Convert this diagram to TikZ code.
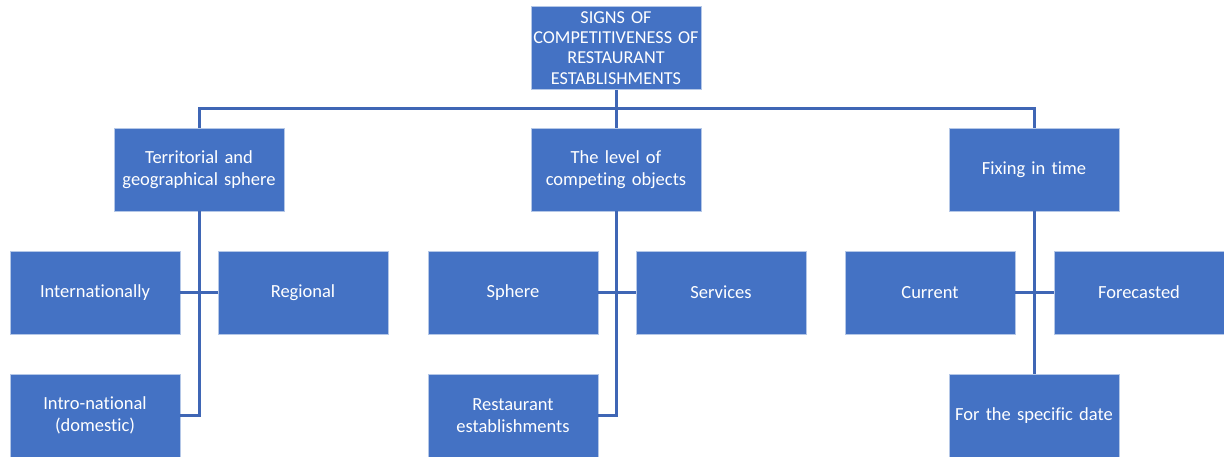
\documentclass[tikz,border=0pt]{standalone}
\usepackage{fontspec}
\setmainfont{Carlito}[Ligatures=NoCommon]
\definecolor{boxblue}{HTML}{4472C4}
\definecolor{lineblue}{HTML}{3F66B5}
\begin{document}
\begin{tikzpicture}[
        x = 1pt, y = -1pt, % pixel units, y downwards
        line width = 3pt, % line style
        draw = lineblue
      ]

      \tikzstyle{sign}=[rectangle,fill=boxblue,draw=white!60!boxblue,line width=0.6pt,
        minimum width=170pt,minimum height=83pt,text width=166pt,align=center,
        text=white,font=\fontsize{18.5}{21.5}\selectfont,inner sep=0pt]

      \useasboundingbox (0,0) rectangle (1224,456);

      \node[sign,text width=170pt,font=\fontsize{18.2}{20.3}\selectfont] (top) at (616,48)
        {SIGNS OF\\COMPETITIVENESS OF\\RESTAURANT\\ESTABLISHMENTS};
      \node[sign] (terr) at (199,169.5) {Territorial and\\geographical sphere};
      \node[sign] (lvl) at (616,169.5) {The level of\\competing objects};
      \node[sign] (fix) at (1034,169.5) {Fixing in time};

      \node[sign] (intl) at (95,292.5) {Internationally};
      \node[sign] (reg) at (303,292.5) {Regional};
      \node[sign] (intro) at (95,415.5) {Intro-national\\(domestic)};

      \node[sign] (sph) at (513,292.5) {Sphere};
      \node[sign] (serv) at (721,292.5) {Services};
      \node[sign] (rest) at (513,415.5) {Restaurant\\establishments};

      \node[sign] (cur) at (930,292.5) {Current};
      \node[sign] (fore) at (1139,292.5) {Forecasted};
      \node[sign] (date) at (1034,415.5) {For the specific date};

      \coordinate (bus) at (616,108);

      \draw (top.south) -- (bus);
      \draw (terr.north) |- (bus) -| (fix.north);
      \draw (bus) -- (lvl.north);

      \draw (terr.south) |- (intro.east);
      \draw (intl.east) -- (reg.west);
      \draw (lvl.south) |- (rest.east);
      \draw (sph.east) -- (serv.west);
      \draw (fix.south) -- (date.north);
      \draw (cur.east) -- (fore.west);

    \end{tikzpicture}
\end{document}
